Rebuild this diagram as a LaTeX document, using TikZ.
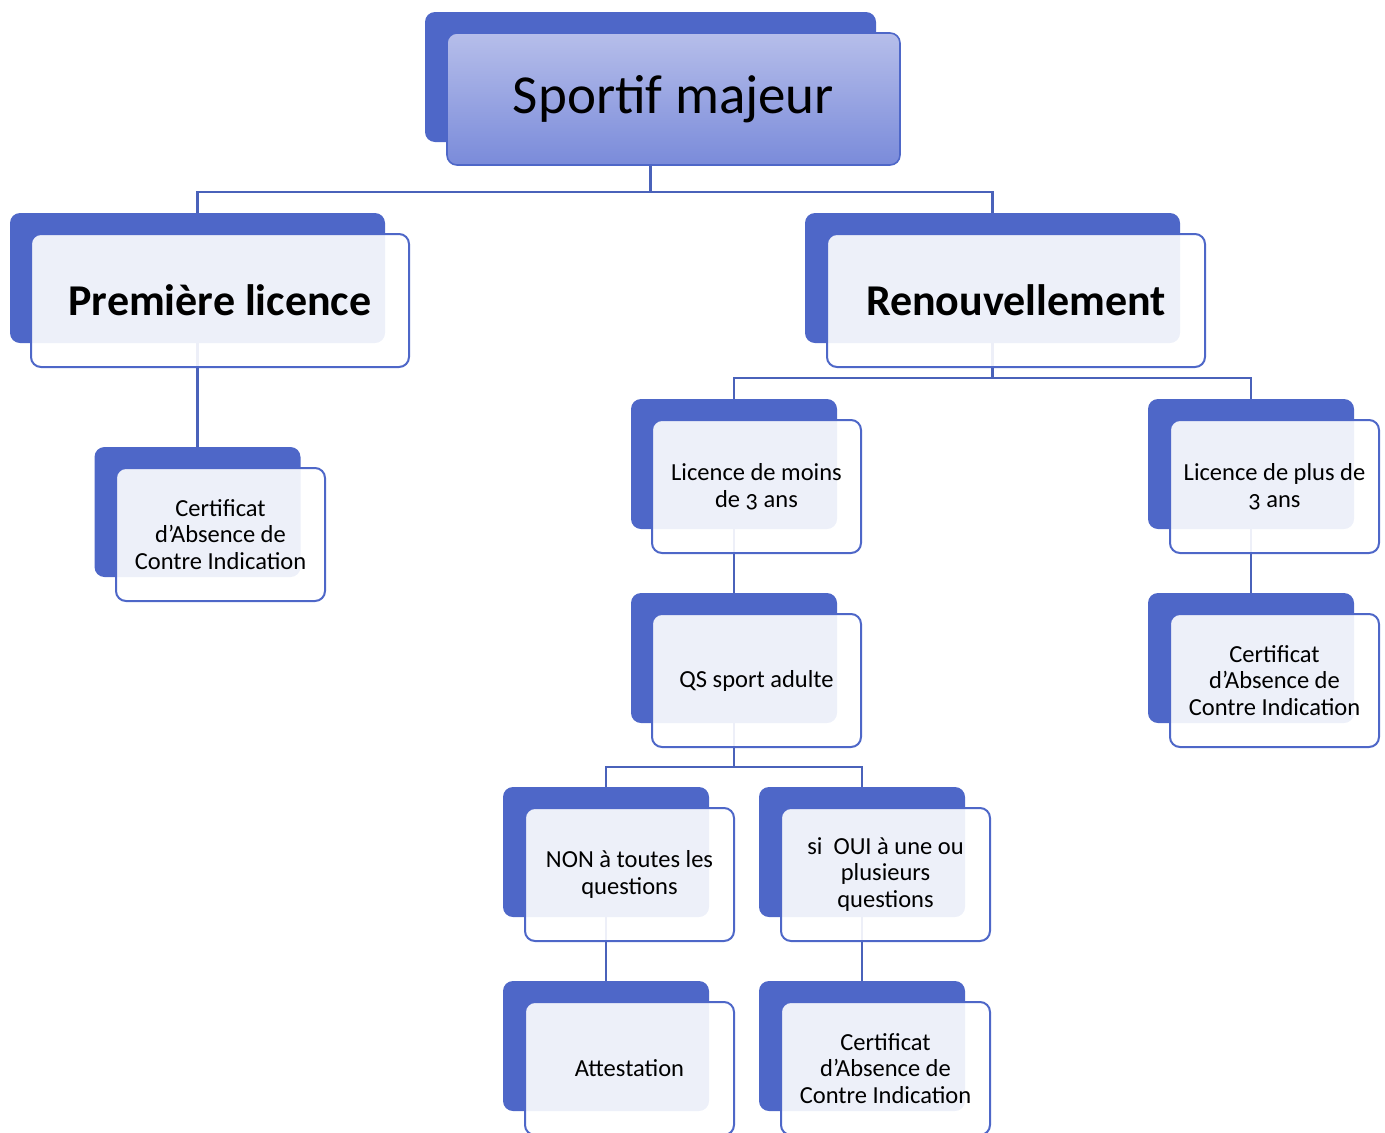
\documentclass[tikz,border=0pt]{standalone}
\usepackage{fontspec}
\setmainfont{Carlito}[Numbers=OldStyle]
\usetikzlibrary{backgrounds}
\definecolor{hblue}{HTML}{4E67C8}
\definecolor{lineblue}{HTML}{4A62BA}
\definecolor{gtop}{HTML}{B6BEEA}
\definecolor{gbot}{HTML}{7A8BDA}
\tikzset{
  backbox/.style={rectangle, rounded corners=10pt, fill=hblue, draw=none, inner sep=0pt, outer sep=0pt, anchor=north west},
  frontbox/.style={rectangle, rounded corners=10pt, fill=white, fill opacity=0.9, text opacity=1, draw=hblue, draw opacity=1, line width=2pt, inner sep=0pt, outer sep=0pt, anchor=north west, align=center, text=black},
  topfront/.style={rectangle, rounded corners=10pt, top color=gtop, bottom color=gbot, draw=hblue, line width=1.6pt, inner sep=0pt, outer sep=0pt, anchor=north west, align=center, text=black},
  conn/.style={draw=lineblue, line width=2.8pt},
  bigsize/.style={minimum width=375pt, minimum height=130pt},
  bigfront/.style={minimum width=378pt, minimum height=133pt, font=\bfseries\fontsize{44}{52}\selectfont},
  smallsize/.style={minimum width=206pt, minimum height=130pt},
  smallfront/.style={minimum width=209pt, minimum height=133pt, font=\fontsize{24.5}{26.8}\selectfont},
}
\begin{document}
\begin{tikzpicture}[x=1pt,y=-1pt]
\useasboundingbox (0,0) rectangle (1385,1133);
% bus coordinates
\coordinate (bus1) at (0,192);
\coordinate (bus2) at (0,378);
\coordinate (bus3) at (0,767);
% back boxes
\node[backbox, minimum width=451pt, minimum height=130pt] (top-b) at (425,12) {};
\node[backbox, bigsize] (prem-b) at (10,213) {};
\node[backbox, bigsize] (ren-b) at (805,213) {};
\node[backbox, smallsize] (cert1-b) at (94.5,447) {};
\node[backbox, smallsize] (moins-b) at (631,399) {};
\node[backbox, smallsize] (plus-b) at (1148,399) {};
\node[backbox, smallsize] (qs-b) at (631,593) {};
\node[backbox, smallsize] (cert2-b) at (1148,593) {};
\node[backbox, smallsize] (non-b) at (503,787) {};
\node[backbox, smallsize] (oui-b) at (759,787) {};
\node[backbox, smallsize] (att-b) at (503,981) {};
\node[backbox, smallsize] (cert3-b) at (759,981) {};
% connectors (behind the boxes)
\begin{pgfonlayer}{background}
\draw[conn] (top-b.south) -- (top-b.south |- bus1) -| (prem-b.north);
\draw[conn] (top-b.south |- bus1) -| (ren-b.north);
\draw[conn] (prem-b.south) -- (cert1-b.north);
\draw[conn] (ren-b.south) -- (ren-b.south |- bus2) -| (moins-b.north);
\draw[conn] (ren-b.south |- bus2) -| (plus-b.north);
\draw[conn] (moins-b.south) -- (qs-b.north);
\draw[conn] (plus-b.south) -- (cert2-b.north);
\draw[conn] (qs-b.south) -- (qs-b.south |- bus3) -| (non-b.north);
\draw[conn] (qs-b.south |- bus3) -| (oui-b.north);
\draw[conn] (non-b.south) -- (att-b.north);
\draw[conn] (oui-b.south) -- (cert3-b.north);
\end{pgfonlayer}
% front boxes
\node[topfront, minimum width=453pt, minimum height=132pt, font=\fontsize{55}{64}\selectfont] (top) at (447,33) {Sportif majeur};
\node[frontbox, bigfront] (prem) at (31,234) {Première licence};
\node[frontbox, bigfront] (ren) at (827,234) {Renouvellement};
\node[frontbox, smallfront] (cert1) at (116,468) {Certificat\\d’Absence de\\Contre Indication};
\node[frontbox, smallfront] (moins) at (652,420) {Licence de moins\\de 3 ans};
\node[frontbox, smallfront] (plus) at (1170,420) {Licence de plus de\\3 ans};
\node[frontbox, smallfront] (qs) at (652,614) {QS sport adulte};
\node[frontbox, smallfront] (cert2) at (1170,614) {Certificat\\d’Absence de\\Contre Indication};
\node[frontbox, smallfront] (non) at (525,808) {NON à toutes les\\questions};
\node[frontbox, smallfront] (oui) at (781,808) {si\ \ OUI à une ou\\plusieurs\\questions};
\node[frontbox, smallfront] (att) at (525,1002) {Attestation};
\node[frontbox, smallfront] (cert3) at (781,1002) {Certificat\\d’Absence de\\Contre Indication};
\end{tikzpicture}
\end{document}
